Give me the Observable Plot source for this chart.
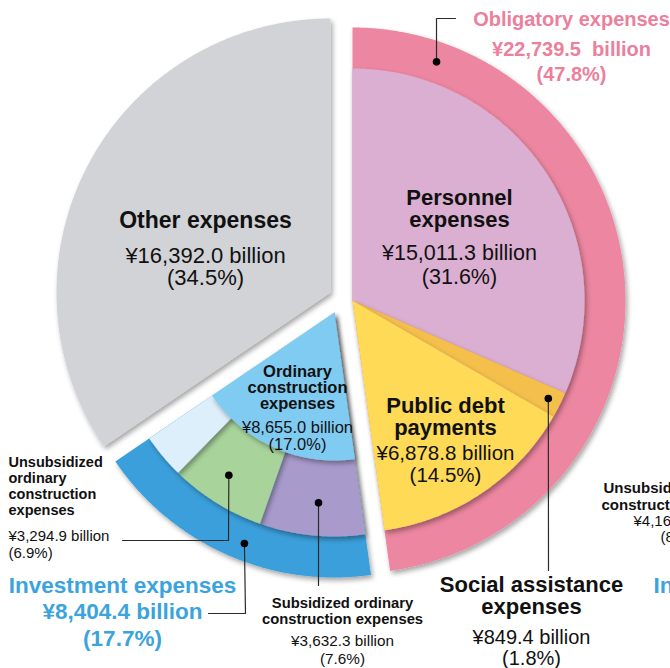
<!DOCTYPE html>
<html><head><meta charset="utf-8">
<script src="https://cdn.jsdelivr.net/npm/d3@7"></script>
<script src="https://cdn.jsdelivr.net/npm/@observablehq/plot@0.6"></script>
<style>
html,body{margin:0;padding:0;background:#fff;overflow:hidden}
#chart{width:670px;height:668px;overflow:hidden}
</style>
</head><body><div id="chart"></div>
<script>
// ---------------- DATA ----------------
// Top-level groups, clockwise from 12 o'clock
const groupNames  = ["Obligatory expenses", "Investment expenses", "Other expenses"];
const groupValues = [22739.5, 8404.4, 16392.0];       // ¥ billion
const groupShares = [47.8, 17.7, 34.5];               // %

// Breakdown of obligatory expenses (clockwise order)
const obligNames  = ["Personnel\nexpenses", "Social assistance\nexpenses", "Public debt\npayments"];
const obligValues = [15011.3, 849.4, 6878.8];
const obligShares = [31.6, 1.8, 14.5];

// Breakdown of investment expenses (clockwise order)
const investNames  = ["Subsidized ordinary\nconstruction expenses", "Unsubsidized\nordinary\nconstruction\nexpenses", "Other investment"];
const investValues = [3632.3, 3294.9, null];
const investShares = [7.6, 6.9, 3.2];

// Ordinary construction expenses (inner core of investment)
const ordinaryName  = "Ordinary\nconstruction\nexpenses";
const ordinaryValue = 8655.0;
const ordinaryShare = 17.0;

// Partially visible labels of the neighbouring chart (cut off at right edge)
const sideLabels = ["Unsubsidized ordinary", "construction expenses", "¥4,167", "(8", "Investment expenses"];

// ---------------- STYLE / LAYOUT ----------------
const colors = {
  oblig: "#ED86A0", personnel: "#DAAFD2", social: "#F4BF4C", debt: "#FEDA56",
  invest: "#3A9FDB", subsidized: "#A89BCC", unsubsidized: "#A8D39B", otherInv: "#DCEFFB",
  ordinary: "#80CBF1", other: "#D1D3D6"
};
const geo = {
  oblig:  {cx: 352, cy: 300, inner: 232, outer: 273},
  invest: {cx: 334, cy: 312, inner: 224, outer: 265, core: 148},
  other:  {cx: 330, cy: 292, outer: 274}
};
const font = "'Liberation Sans', Arial, Helvetica, sans-serif";

// ---------------- GEOMETRY ----------------
const rad = a => a * Math.PI / 180;
function sector(cx, cy, r, a0, a1) {
  const pts = [{x: cx, y: cy}];
  const n = Math.max(2, Math.ceil((a1 - a0) / 0.5));
  for (let i = 0; i <= n; i++) {
    const a = rad(a0 + (a1 - a0) * i / n);
    pts.push({x: cx + r * Math.sin(a), y: cy - r * Math.cos(a)});
  }
  return pts;
}
const polar = (g, a, r) => ({x: g.cx + r * Math.sin(rad(a)), y: g.cy - r * Math.cos(rad(a))});

// angles of groups
const total = d3.sum(groupShares);
const gStart = [], gEnd = [];
let acc = 0;
groupShares.forEach((s, i) => { gStart[i] = acc / total * 360; acc += s; gEnd[i] = acc / total * 360; });

function subAngles(shares, a0, a1) {
  const sum = d3.sum(shares); let c = 0;
  return shares.map(s => { const st = a0 + c / sum * (a1 - a0); c += s; return [st, a0 + c / sum * (a1 - a0)]; });
}
const obligA = subAngles(obligShares, gStart[0], gEnd[0]);
const investA = subAngles(investShares, gStart[1], gEnd[1]);

const slices = [];
// Other expenses
slices.push({pts: sector(geo.other.cx, geo.other.cy, geo.other.outer, gStart[2], gEnd[2]), color: colors.other});
// Obligatory ring + breakdown
slices.push({pts: sector(geo.oblig.cx, geo.oblig.cy, geo.oblig.outer, gStart[0], gEnd[0]), color: colors.oblig});
const obligColors = [colors.personnel, colors.social, colors.debt];
obligA.forEach(([a0, a1], i) => slices.push({pts: sector(geo.oblig.cx, geo.oblig.cy, geo.oblig.inner, a0, a1), color: obligColors[i]}));
// Investment ring + breakdown + core
slices.push({pts: sector(geo.invest.cx, geo.invest.cy, geo.invest.outer, gStart[1], gEnd[1]), color: colors.invest});
const investColors = [colors.subsidized, colors.unsubsidized, colors.otherInv];
investA.forEach(([a0, a1], i) => slices.push({pts: sector(geo.invest.cx, geo.invest.cy, geo.invest.inner, a0, a1), color: investColors[i]}));
slices.push({pts: sector(geo.invest.cx, geo.invest.cy, geo.invest.core, gStart[1], gEnd[1]), color: colors.ordinary});

// ---------------- LABELS ----------------
const fmt = d3.format(",.1f");
const money = v => `¥${fmt(v)} billion`;
const pct = s => `(${s.toFixed(1)}%)`;
const lines = s => s.split("\n");

// each label: x, anchor, fill, rows [{t, y, size, weight}]
const labels = [];
function block(x, anchor, fill, rows) { labels.push({x, anchor, fill, rows}); }

block(571, "middle", "#EC7F9C", [
  {t: groupNames[0], y: 25, size: 20, w: "bold"},
  {t: money(groupValues[0]).replace(" ", "  "), y: 55, size: 20, w: "bold"},
  {t: pct(groupShares[0]), y: 80, size: 20, w: "bold"}
]);
block(459, "middle", "#111", [
  ...lines(obligNames[0]).map((t, i) => ({t, y: 204 + 22 * i, size: 22, w: "bold"})),
  {t: money(obligValues[0]), y: 259, size: 21.5, w: "normal"},
  {t: pct(obligShares[0]), y: 283, size: 21.5, w: "normal"}
]);
block(205, "middle", "#111", [
  {t: groupNames[2], y: 227, size: 23, w: "bold"},
  {t: money(groupValues[2]), y: 262, size: 22, w: "normal"},
  {t: pct(groupShares[2]), y: 284, size: 22, w: "normal"}
]);
block(445, "middle", "#111", [
  ...lines(obligNames[2]).map((t, i) => ({t, y: 412 + 22 * i, size: 22, w: "bold"})),
  {t: money(obligValues[2]), y: 459, size: 20.5, w: "normal"},
  {t: pct(obligShares[2]), y: 481, size: 20.5, w: "normal"}
]);
block(297, "middle", "#111", [
  ...lines(ordinaryName).map((t, i) => ({t, y: 376 + 16 * i, size: 16.5, w: "bold"})),
  {t: money(ordinaryValue), y: 432, size: 16.5, w: "normal"},
  {t: pct(ordinaryShare), y: 449, size: 16.5, w: "normal"}
]);
block(8, "start", "#111", [
  ...lines(investNames[1]).map((t, i) => ({t, y: 466 + 16 * i, size: 14.5, w: "bold"})),
  {t: money(investValues[1]), y: 540, size: 15, w: "normal"},
  {t: pct(investShares[1]), y: 557, size: 15, w: "normal"}
]);
block(122, "middle", "#3BA3DD", [
  {t: groupNames[1], y: 592, size: 22.5, w: "bold"},
  {t: money(groupValues[1]), y: 618, size: 22.5, w: "bold"},
  {t: pct(groupShares[1]), y: 645, size: 22.5, w: "bold"}
]);
block(342, "middle", "#111", [
  ...lines(investNames[0]).map((t, i) => ({t, y: 607 + 16 * i, size: 14.8, w: "bold"})),
  {t: money(investValues[0]), y: 645, size: 15.3, w: "normal"},
  {t: pct(investShares[0]), y: 663, size: 15.3, w: "normal"}
]);
block(531, "middle", "#111", [
  ...lines(obligNames[1]).map((t, i) => ({t, y: 591 + 22 * i, size: 22, w: "bold"})),
  {t: money(obligValues[1]), y: 643, size: 20, w: "normal"},
  {t: pct(obligShares[1]), y: 664, size: 20, w: "normal"}
]);
// cut-off neighbour labels
block(603, "start", "#111", [{t: sideLabels[0], y: 492, size: 15, w: "bold"}]);
block(601, "start", "#111", [{t: sideLabels[1], y: 509, size: 15, w: "bold"}]);
block(633, "start", "#111", [{t: sideLabels[2], y: 525, size: 15, w: "normal"}]);
block(660, "start", "#111", [{t: sideLabels[3], y: 541, size: 15, w: "normal"}]);
block(653, "start", "#3BA3DD", [{t: sideLabels[4], y: 592, size: 22.5, w: "bold"}]);

// leader lines: dot at (group, angle, radius) then elbow points
const leaders = [
  {g: geo.oblig, a: 19.4, r: 253, path: [[436, 18], [455, 18]]},
  {g: geo.oblig, a: 116.6, r: 219, path: [[548, 570]]},
  {g: geo.invest, a: 201.3, r: 248, path: [[245, 613], [208, 613]]},
  {g: geo.invest, a: 213, r: 194, path: [[228, 540], [122, 540]]},
  {g: geo.invest, a: 184.8, r: 191, path: [[318, 585]]}
];
const leaderPts = [], leaderDots = [];
leaders.forEach((l, i) => {
  const p = polar(l.g, l.a, l.r);
  leaderDots.push(p);
  leaderPts.push({x: p.x, y: p.y, id: i});
  l.path.forEach(([x, y]) => leaderPts.push({x: x, y: y, id: i}));
});

// ---------------- PLOT ----------------
const marks = [];
slices.forEach(s => marks.push(Plot.line(s.pts, {x: "x", y: "y", fill: s.color, stroke: "none", curve: "linear-closed", ariaDescription: "slice"})));
marks.push(Plot.line(leaderPts, {x: "x", y: "y", z: "id", stroke: "#2a2a2a", strokeWidth: 1.2}));
marks.push(Plot.dot(leaderDots, {x: "x", y: "y", r: 3.8, fill: "#000", stroke: "none"}));
labels.forEach(b => b.rows.forEach(r => marks.push(
  Plot.text([{x: b.x, y: r.y, t: r.t}], {x: "x", y: "y", text: "t", fontSize: r.size, fontWeight: r.w,
    fill: b.fill, textAnchor: b.anchor, lineAnchor: "bottom"})
)));

const chart = Plot.plot({
  width: 670, height: 668, margin: 0,
  x: {domain: [0, 670], range: [0, 670], axis: null},
  y: {domain: [0, 668], range: [0, 668], axis: null},
  style: {fontFamily: font, background: "#fff", overflow: "hidden"},
  marks
});
const defs = document.createElementNS("http://www.w3.org/2000/svg", "defs");
defs.innerHTML = '<filter id="sh" x="-20%" y="-20%" width="140%" height="140%"><feDropShadow dx="2" dy="3" stdDeviation="2.5" flood-color="#000" flood-opacity="0.35"/></filter>';
chart.insertBefore(defs, chart.firstChild);
chart.querySelectorAll('g[aria-description="slice"]').forEach(g => g.setAttribute("filter", "url(#sh)"));
document.getElementById("chart").appendChild(chart);
</script>
</body></html>
